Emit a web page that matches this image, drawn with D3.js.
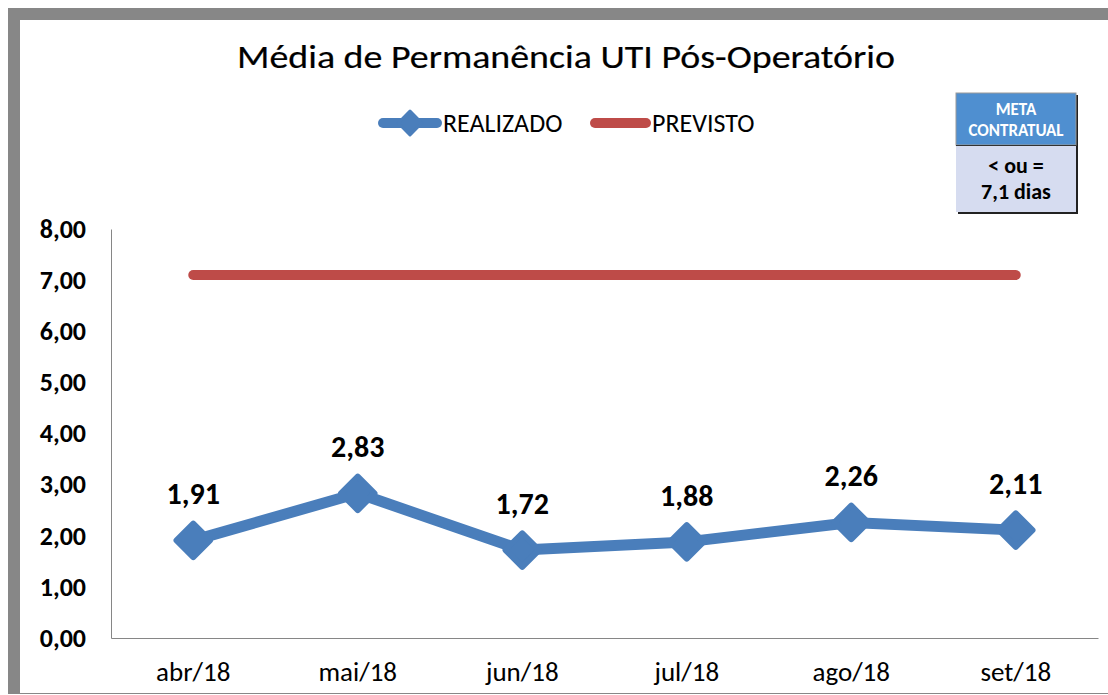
<!DOCTYPE html>
<html>
<head>
<meta charset="utf-8">
<script src="https://cdn.jsdelivr.net/npm/d3@7"></script>
<style>
  body { margin: 0; background: #fff; }
  svg { display: block; }
</style>
</head>
<body>
<div id="chart"></div>
<script>
// Chart data
const months = ['abr/18', 'mai/18', 'jun/18', 'jul/18', 'ago/18', 'set/18'];
const realizado = [1.91, 2.83, 1.72, 1.88, 2.26, 2.11];
const previsto = [7.1, 7.1, 7.1, 7.1, 7.1, 7.1];
const yTicks = [0, 1, 2, 3, 4, 5, 6, 7, 8];

const width = 1108;
const height = 695;
const blue = '#4a7ebb';
const red = '#be4b48';
const font = 'Carlito, "Open Sans", "Noto Sans", sans-serif';
const fmt = d => d3.format('.2f')(d).replace('.', ',');

const svg = d3.select('#chart')
    .append('svg')
    .attr('width', width)
    .attr('height', height);

// Gray frame (top and left thick, bottom thin)
svg.append('rect').attr('x', 8).attr('y', 8).attr('width', width - 8).attr('height', 12).attr('fill', '#878787');
svg.append('rect').attr('x', 8).attr('y', 8).attr('width', 12).attr('height', 686).attr('fill', '#878787');
svg.append('line').attr('x1', 8).attr('x2', width).attr('y1', 693.5).attr('y2', 693.5)
    .attr('stroke', '#878787').attr('stroke-width', 1);

// Title
svg.append('text')
    .attr('x', 566)
    .attr('y', 68)
    .attr('text-anchor', 'middle')
    .attr('font-family', font)
    .attr('font-size', 32)
    .attr('textLength', 658)
    .attr('lengthAdjust', 'spacingAndGlyphs')
    .attr('fill', '#000')
    .attr('stroke', '#000')
    .attr('stroke-width', 0.2)
    .text('Média de Permanência UTI Pós-Operatório');

// Scales
const x = d3.scaleBand().domain(months).range([111, 1098]);
const y = d3.scaleLinear().domain([0, 8]).range([638, 229]);
const cx = d => x(d) + x.bandwidth() / 2;

// Axes
const yAxis = svg.append('g')
    .attr('transform', 'translate(111,0)')
    .call(d3.axisLeft(y).tickValues(yTicks).tickSize(0).tickPadding(25).tickFormat(fmt));
yAxis.select('.domain').attr('stroke', '#868686');
yAxis.selectAll('text')
    .attr('font-family', font)
    .attr('font-size', 26)
    .attr('font-weight', 'bold')
    .attr('fill', '#000');

const xAxis = svg.append('g')
    .attr('transform', 'translate(0,638)')
    .call(d3.axisBottom(x).tickSize(0).tickPadding(24));
xAxis.select('.domain').attr('stroke', '#868686');
xAxis.selectAll('text')
    .attr('font-family', font)
    .attr('font-size', 27)
    .attr('fill', '#000');

// PREVISTO line
svg.append('path')
    .datum(previsto)
    .attr('d', d3.line().x((d, i) => cx(months[i])).y(d => y(d)))
    .attr('fill', 'none')
    .attr('stroke', red)
    .attr('stroke-width', 10)
    .attr('stroke-linecap', 'round');

// REALIZADO line
svg.append('path')
    .datum(realizado)
    .attr('d', d3.line().x((d, i) => cx(months[i])).y(d => y(d)))
    .attr('fill', 'none')
    .attr('stroke', blue)
    .attr('stroke-width', 11)
    .attr('stroke-linejoin', 'round');

const diamond = d3.symbol().type(d3.symbolSquare).size(560);
svg.selectAll('.marker')
    .data(realizado)
    .join('path')
    .attr('class', 'marker')
    .attr('d', diamond)
    .attr('transform', (d, i) => `translate(${cx(months[i])},${y(d)}) rotate(45)`)
    .attr('fill', blue)
    .attr('stroke', blue)
    .attr('stroke-width', 6)
    .attr('stroke-linejoin', 'round');

// Data labels
svg.selectAll('.label')
    .data(realizado)
    .join('text')
    .attr('class', 'label')
    .attr('x', (d, i) => cx(months[i]))
    .attr('y', d => y(d) - 36)
    .attr('text-anchor', 'middle')
    .attr('font-family', font)
    .attr('font-size', 30)
    .attr('font-weight', 'bold')
    .attr('fill', '#000')
    .text(fmt);

// Legend
const legend = svg.append('g').attr('font-family', font).attr('font-size', 26);
legend.append('line').attr('x1', 383).attr('x2', 437).attr('y1', 123).attr('y2', 123)
    .attr('stroke', blue).attr('stroke-width', 10).attr('stroke-linecap', 'round');
legend.append('path').attr('d', d3.symbol().type(d3.symbolSquare).size(280))
    .attr('transform', 'translate(410,123) rotate(45)')
    .attr('fill', blue).attr('stroke', blue).attr('stroke-width', 3).attr('stroke-linejoin', 'round');
legend.append('text').attr('x', 443).attr('y', 132).text('REALIZADO');
legend.append('line').attr('x1', 595).attr('x2', 646).attr('y1', 123).attr('y2', 123)
    .attr('stroke', red).attr('stroke-width', 10).attr('stroke-linecap', 'round');
legend.append('text').attr('x', 652).attr('y', 132).text('PREVISTO');

// Meta contratual box
const box = svg.append('g').attr('font-family', font).attr('font-weight', 'bold').attr('text-anchor', 'middle');
box.append('rect').attr('x', 958).attr('y', 95).attr('width', 120).attr('height', 119).attr('fill', '#222');
box.append('rect').attr('x', 956).attr('y', 93).attr('width', 120).attr('height', 52)
    .attr('fill', '#4f8fd0').attr('stroke', '#9a9a9a').attr('stroke-width', 1);
box.append('rect').attr('x', 956).attr('y', 146).attr('width', 120).attr('height', 66)
    .attr('fill', '#d6dcf0');
box.append('line').attr('x1', 956).attr('x2', 1076).attr('y1', 145.5).attr('y2', 145.5).attr('stroke', '#333');
box.append('text').attr('x', 1016).attr('y', 115).attr('font-size', 17).attr('fill', '#fff').text('META');
box.append('text').attr('x', 1016).attr('y', 136).attr('font-size', 17).attr('fill', '#fff').text('CONTRATUAL');
box.append('text').attr('x', 1016).attr('y', 173).attr('font-size', 22).attr('fill', '#000').text('< ou =');
box.append('text').attr('x', 1016).attr('y', 199).attr('font-size', 22).attr('fill', '#000').text('7,1 dias');
</script>
</body>
</html>
